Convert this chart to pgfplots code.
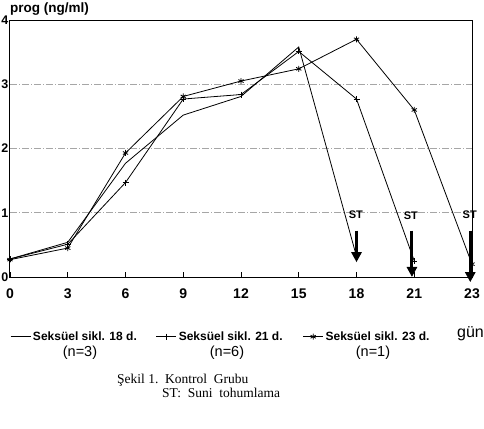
\documentclass[border=0pt]{standalone}
\usepackage{fontspec}
\setmainfont{Liberation Serif}
\setsansfont{Liberation Sans}
\usepackage{pgfplots}
\pgfplotsset{compat=1.18}
\usetikzlibrary{arrows.meta}
\begin{document}
\begin{tikzpicture}
\useasboundingbox (-10pt,-151pt) rectangle (474pt,277pt);
\begin{axis}[
  at={(0pt,0pt)}, anchor=south west,
  scale only axis, width=462pt, height=257pt,
  xmin=0, xmax=8, ymin=0, ymax=4,
  clip=false,
  xtick={0,...,8},
  xticklabels={0,3,6,9,12,15,18,21,23},
  ytick={0,1,2,3,4},
  xtick pos=bottom,
  tick align=inside,
  major tick length=5pt,
  ytick style={draw=none},
  xtick style={black, line width=0.8pt},
  axis line style={black, line width=1pt},
  ymajorgrids,
  grid style={gray!70, line width=0.6pt, dash pattern=on 7pt off 2pt on 1pt off 2pt},
  /pgf/number format/assume math mode=true,
  ticklabel style={font=\sffamily\bfseries\fontsize{14}{14}\selectfont},
  xticklabel style={inner sep=0pt, anchor=north, yshift=-12pt},
  yticklabel style={inner sep=0pt, anchor=east, xshift=-1.5pt, font=\sffamily\bfseries\fontsize{12.5}{12.5}\selectfont},
  legend style={at={(0,-0.2323)}, anchor=west, draw=none, fill=none,
    inner sep=0pt, column sep=0pt, legend columns=3,
    font=\sffamily\bfseries\fontsize{12}{12}\selectfont,
    nodes={inner sep=0pt}},
  legend image code/.code={\draw[mark repeat=2,mark phase=2,#1] plot coordinates {(0pt,0pt) (10pt,0pt) (20pt,0pt)};},
]
% Seksuel sikl. 18 d. (n=3)
\addplot[black, line width=0.8pt] coordinates {
 (0,0.28) (1,0.54) (2,1.77) (3,2.52) (4,2.81) (5,3.58) (6,0.32)};
\addlegendentry{\hspace*{2pt}\makebox[123pt][l]{Seksüel sikl. 18 d.}}
% Seksuel sikl. 21 d. (n=6)
\addplot[black, line width=0.8pt, mark=+, mark size=3pt, mark options={line width=0.8pt}] coordinates {
 (0,0.28) (1,0.51) (2,1.47) (3,2.77) (4,2.84) (5,3.51) (6,2.77) (7,0.25)};
\addlegendentry{\hspace*{2pt}\makebox[124pt][l]{Seksüel sikl. 21 d.}}
% Seksuel sikl. 23 d. (n=1)
\addplot[black, line width=0.8pt, mark=asterisk, mark size=3pt, mark options={line width=0.8pt}] coordinates {
 (0,0.27) (1,0.45) (2,1.93) (3,2.81) (4,3.05) (5,3.24) (6,3.70) (7,2.60) (8,0.20)};
\addlegendentry{\hspace*{2pt}Seksüel sikl. 23 d.}
% ST arrows
\addplot[black, line width=3pt, -{Triangle[length=10pt,width=10pt]}, forget plot] coordinates {(6,0.72) (6,0.23)};
\addplot[black, line width=3pt, -{Triangle[length=10pt,width=10pt]}, forget plot] coordinates {(6.96,0.72) (6.96,0.0)};
\addplot[black, line width=3pt, -{Triangle[length=10pt,width=10pt]}, forget plot] coordinates {(7.97,0.72) (7.97,-0.08)};
\node[font=\sffamily\bfseries\fontsize{11}{11}\selectfont] at (axis cs:5.99,0.97) {ST};
\node[font=\sffamily\bfseries\fontsize{11}{11}\selectfont] at (axis cs:6.94,0.96) {ST};
\node[font=\sffamily\bfseries\fontsize{11}{11}\selectfont] at (axis cs:7.96,0.97) {ST};
\end{axis}
\node[anchor=west, font=\sffamily\bfseries\fontsize{13.5}{13.5}\selectfont, inner sep=0pt] at (0pt,267.5pt) {prog (ng/ml)};
\node[font=\sffamily\fontsize{14.5}{14.5}\selectfont] at (70pt,-76pt) {(n=3)};
\node[font=\sffamily\fontsize{14.5}{14.5}\selectfont] at (217pt,-76pt) {(n=6)};
\node[font=\sffamily\fontsize{14.5}{14.5}\selectfont] at (363pt,-76pt) {(n=1)};
\node[font=\sffamily\fontsize{16}{16}\selectfont] at (460.5pt,-57pt) {gün};
\node[anchor=west, inner sep=0pt, font=\fontsize{13.5}{13.5}\selectfont] at (107pt,-103pt) {Şekil 1.\ \ Kontrol\ \ Grubu};
\node[anchor=west, inner sep=0pt, font=\fontsize{13.5}{13.5}\selectfont] at (152pt,-116pt) {ST:\ \ Suni\ \ tohumlama};
\end{tikzpicture}
\end{document}
